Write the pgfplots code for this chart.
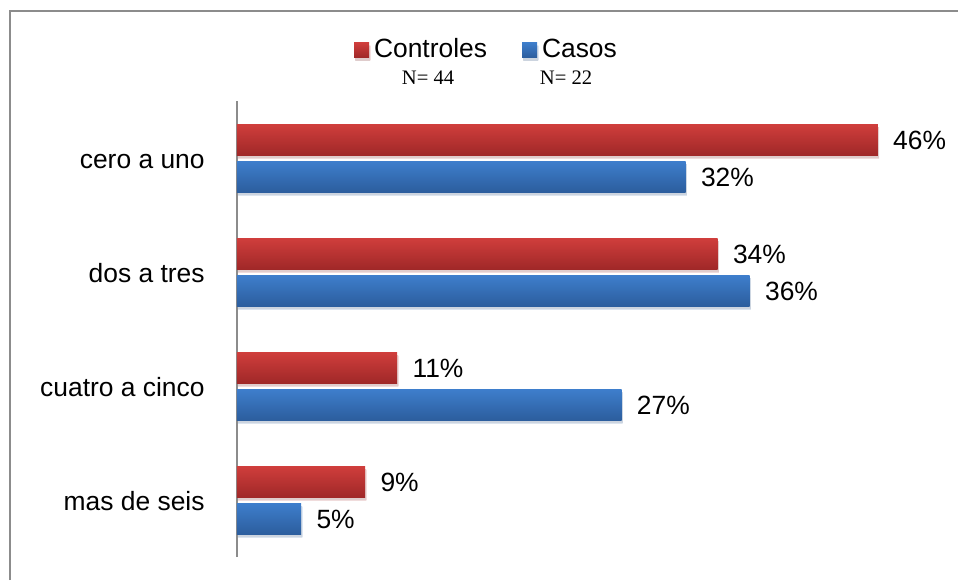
\documentclass[border=0pt]{standalone}
\usepackage{fontspec}
\setmainfont{Liberation Sans}
\newfontfamily\serifN{Liberation Serif}
\usepackage{pgfplots}
\pgfplotsset{compat=1.18}
\usetikzlibrary{shadows}

\definecolor{redtop}{RGB}{208,62,60}
\definecolor{redbot}{RGB}{160,40,40}
\definecolor{bluetop}{RGB}{62,126,204}
\definecolor{bluebot}{RGB}{44,94,158}

\pgfplotsset{
  redbar/.style={bar shift=9.25pt, draw=none, top color=redtop, bottom color=redbot,
    drop shadow={shadow xshift=0.6pt, shadow yshift=-1.6pt, opacity=0.16}},
  bluebar/.style={bar shift=-9.25pt, draw=none, top color=bluetop, bottom color=bluebot,
    drop shadow={shadow xshift=0.6pt, shadow yshift=-1.6pt, opacity=0.16}},
}

\begin{document}
\begin{tikzpicture}[font=\fontsize{13.2}{15.8}\selectfont]
% 1px of the reference = 0.5pt
\path[use as bounding box] (0,0) rectangle (479pt,290pt);
\draw[black!45, line width=1pt] (5pt,0) -- (5pt,284.5pt) -- (479pt,284.5pt);

\begin{axis}[
  at={(118.5pt,11.5pt)}, anchor=south west,
  scale only axis, width=352.5pt, height=228pt,
  xbar, bar width=15.5pt,
  xmin=0, xmax=50, ymin=-0.5, ymax=3.5,
  axis x line=none, axis y line*=left,
  y axis line style={black!45, line width=1pt, -},
  ytick={0,1,2,3},
  yticklabels={mas de seis, cuatro a cinco, dos a tres, cero a uno},
  major tick length=0pt,
  yticklabel style={anchor=base east, inner xsep=0pt, xshift=-16pt, yshift=-5.3pt},
  clip=false,
  nodes near coords, point meta=explicit symbolic,
  every node near coord/.append style={anchor=base west, inner xsep=0pt,
    xshift=7.5pt, yshift=-5.2pt, black},
  legend columns=2,
  legend style={draw=none, fill=none, at={(0.356,1.112)}, anchor=center,
    inner sep=0pt, nodes={inner xsep=2.5pt},
    /tikz/every even column/.append style={column sep=15pt}},
  legend image code/.code={\path[#1, draw=none] (0pt,-3.75pt) rectangle (7.5pt,3.75pt);},
]
% each bar is its own plot so that its shading runs over that bar only
\addplot[redbar]  coordinates {(45.45,3) [46\%]};
\addlegendentry{Controles}
\addplot[bluebar] coordinates {(31.82,3) [32\%]};
\addlegendentry{Casos}
\addplot[redbar, forget plot]  coordinates {(34.09,2) [34\%]};
\addplot[redbar, forget plot]  coordinates {(11.36,1) [11\%]};
\addplot[redbar, forget plot]  coordinates {(9.09,0) [9\%]};
\addplot[bluebar, forget plot] coordinates {(36.36,2) [36\%]};
\addplot[bluebar, forget plot] coordinates {(27.27,1) [27\%]};
\addplot[bluebar, forget plot] coordinates {(4.55,0) [5\%]};

\node[font=\serifN\fontsize{10.3}{12}\selectfont] at (rel axis cs:0.271,1.0515) {N= 44};
\node[font=\serifN\fontsize{10.3}{12}\selectfont] at (rel axis cs:0.4667,1.0515) {N= 22};
\end{axis}
\end{tikzpicture}
\end{document}
